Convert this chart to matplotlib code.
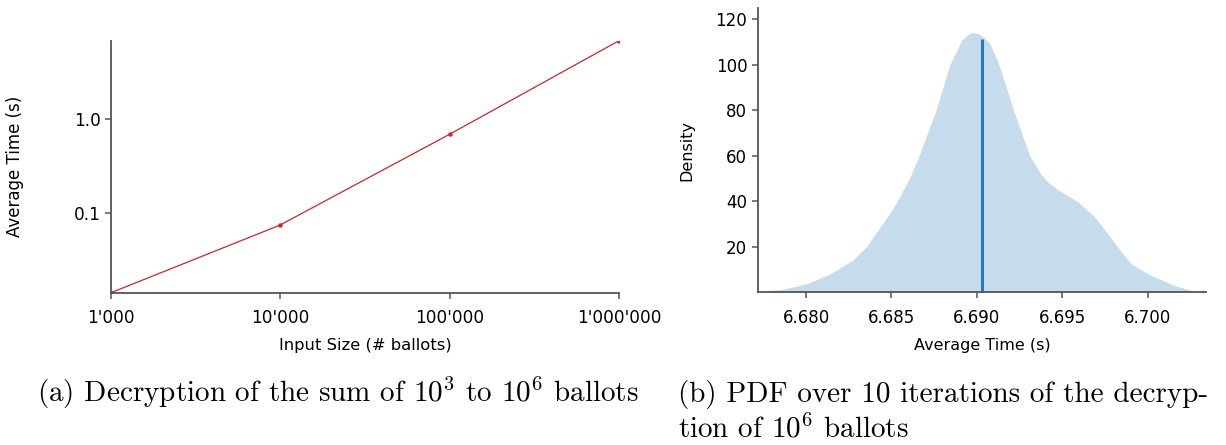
import matplotlib
matplotlib.use('Agg')
from matplotlib import pyplot as plt
from matplotlib.ticker import FixedLocator, FixedFormatter, NullLocator

# (a) decryption time vs. number of ballots
ballots = [1000, 10000, 100000, 1000000]
avg_time = [0.0143, 0.0747, 0.683, 6.69]
ballot_labels = ["1'000", "10'000", "100'000", "1'000'000"]

# (b) density of the decryption time for 10^6 ballots
pdf_x = [6.67729, 6.67867, 6.68004, 6.68142, 6.68269, 6.68354, 6.68503, 6.68534,
         6.68609, 6.68662, 6.68761, 6.68842, 6.68911, 6.68950, 6.68980, 6.69010,
         6.69045, 6.69076, 6.69129, 6.69214, 6.69309, 6.69373, 6.69415, 6.69479,
         6.69585, 6.69691, 6.69822, 6.69903, 6.70009, 6.70158, 6.70262, 6.70341]
pdf_y = [0.3, 1.2, 3.6, 8.0, 13.8, 20.0, 36.0, 40.0,
         50.5, 60.0, 80.0, 100.0, 110.7, 113.3, 114.1, 113.5,
         111.5, 109.3, 100.0, 80.0, 60.0, 52.0, 48.3, 44.7,
         40.0, 32.9, 20.0, 12.4, 7.7, 2.8, 0.6, 0.3]
mean_time = 6.6903
mean_density = 111.2

spine_col = '#555555'
plt.rcParams['mathtext.fontset'] = 'cm'

fig = plt.figure(figsize=(12.26, 4.45), dpi=100)

# left panel: log-log timing
ax1 = fig.add_axes([0.0905, 0.3422, 0.4144, 0.5663])
ax1.plot(ballots, avg_time, color='#c8282c', lw=0.9, marker='o', ms=2.2)
ax1.set_xscale('log')
ax1.set_yscale('log')
ax1.set_xlim(ballots[0], ballots[-1])
ax1.set_ylim(avg_time[0], avg_time[-1])
ax1.xaxis.set_major_locator(FixedLocator(ballots))
ax1.xaxis.set_major_formatter(FixedFormatter(ballot_labels))
ax1.xaxis.set_minor_locator(NullLocator())
ax1.yaxis.set_major_locator(FixedLocator([0.1, 1.0]))
ax1.yaxis.set_major_formatter(FixedFormatter(['0.1', '1.0']))
ax1.yaxis.set_minor_locator(NullLocator())
ax1.set_xlabel('Input Size (# ballots)', fontsize=11.8, labelpad=7.5)
ax1.set_ylabel('Average Time (s)', fontsize=12)
ax1.yaxis.set_label_coords(-0.172, 0.5)
ax1.tick_params(axis='x', pad=7.8)
ax1.tick_params(labelsize=12.2)

# right panel: density of the timings
ax2 = fig.add_axes([0.618, 0.3438, 0.3657, 0.6375])
ax2.fill_between(pdf_x, pdf_y, 0, color='#1f77b4', alpha=0.25, lw=0)
ax2.vlines(mean_time, 0, mean_density, color='#2878b8', lw=2.2)
ax2.set_xlim(6.67717, 6.70341)
ax2.set_ylim(0, 124.7)
ax2.set_xticks([6.680, 6.685, 6.690, 6.695, 6.700])
ax2.set_xticklabels(['6.680', '6.685', '6.690', '6.695', '6.700'])
ax2.set_yticks([20, 40, 60, 80, 100, 120])
ax2.set_xlabel('Average Time (s)', fontsize=11.5, labelpad=8)
ax2.set_ylabel('Density', fontsize=11.5, labelpad=15)
ax2.tick_params(labelsize=12)
ax2.tick_params(axis='x', pad=8.5)

for ax in (ax1, ax2):
    for s in ('top', 'right'):
        ax.spines[s].set_visible(False)
    for s in ('left', 'bottom'):
        ax.spines[s].set_color(spine_col)
        ax.spines[s].set_linewidth(1.3)
    ax.tick_params(color=spine_col, length=4, width=1.1)

# captions
fig.text(37 / 1226, 1 - 402 / 445, r'(a) Decryption of the sum of $10^3$ to $10^6$ ballots',
         family='cmr10', fontsize=21)
fig.text(678 / 1226, 1 - 402 / 445, r'(b) PDF over 10 iterations of the decryp-',
         family='cmr10', fontsize=21)
fig.text(678 / 1226, 1 - 438 / 445, r'tion of $10^6$ ballots',
         family='cmr10', fontsize=21)

plt.savefig('out.png', dpi=100)
